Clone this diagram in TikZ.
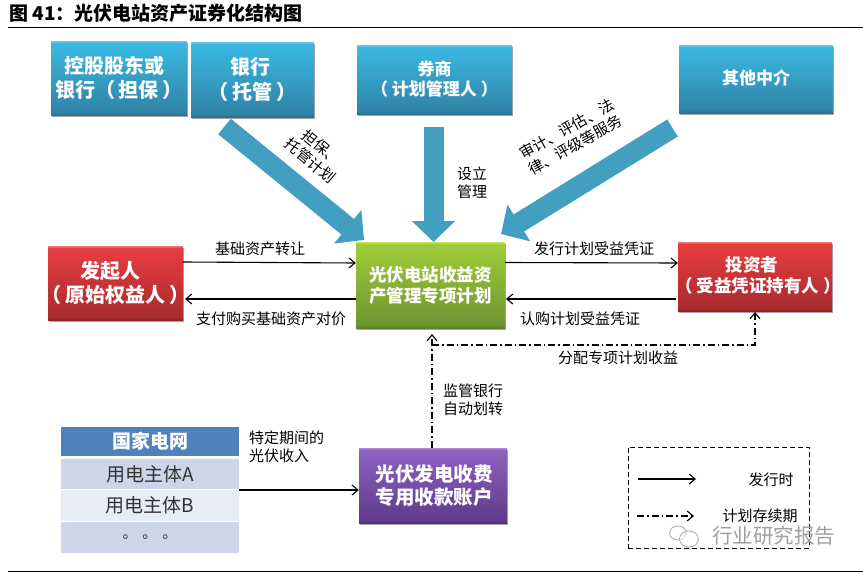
\documentclass[tikz,border=0pt]{standalone}
\usepackage{fontspec}
\setmainfont{Noto Sans CJK SC}
\usetikzlibrary{arrows.meta,shadows,calc}
\definecolor{blockblue}{HTML}{429FBF}
\definecolor{hdr}{HTML}{4F81BD}
\definecolor{rowd}{HTML}{CDD5E6}
\definecolor{rowl}{HTML}{E8ECF4}
\newcommand{\glossyshade}[5]{%
  \pgfdeclareverticalshading{#1}{100bp}{%
    color(0bp)=(#5); color(25bp)=(#5); color(27bp)=(#4); color(71bp)=(#3); color(73.5bp)=(#3); color(75bp)=(#2); color(100bp)=(#2)}}
\newcommand{\wideline}[1]{\makebox[0pt]{#1}}
\newcommand{\lp}{（\hspace{4pt}}
\newcommand{\rp}{\hspace{4pt}）}
\newcommand{\upby}[1]{\rule[-#1]{0pt}{#1}}
\definecolor{bR}{HTML}{6CCBE6}\definecolor{bT}{HTML}{39B6E0}\definecolor{bB}{HTML}{3183A6}\definecolor{bE}{HTML}{2B6F8C}
\definecolor{rR}{HTML}{F07A7A}\definecolor{rT}{HTML}{E53C3F}\definecolor{rB}{HTML}{A92B2D}\definecolor{rE}{HTML}{8E2425}
\definecolor{gR}{HTML}{BFE060}\definecolor{gT}{HTML}{9CCB37}\definecolor{gB}{HTML}{6E9432}\definecolor{gE}{HTML}{5E7F2B}
\definecolor{pR}{HTML}{A98AD2}\definecolor{pT}{HTML}{8D5FBE}\definecolor{pB}{HTML}{5E3C8B}\definecolor{pE}{HTML}{4F3275}
\glossyshade{glossblue}{bR}{bT}{bB}{bE}
\glossyshade{glossred}{rR}{rT}{rB}{rE}
\glossyshade{glossgreen}{gR}{gT}{gB}{gE}
\glossyshade{glosspurple}{pR}{pT}{pB}{pE}
\tikzset{
  x=1pt,y=-1pt,
  box/.style={inner sep=0pt,align=center,text=white,font=\fontsize{#1}{1.2\dimexpr #1pt\relax}\selectfont\bfseries,
    drop shadow={shadow xshift=0.6pt,shadow yshift=-1.6pt,opacity=.35,fill=black}},
  bluebox/.style={box=#1,shading=glossblue},
  redbox/.style={box=#1,shading=glossred},
  greenbox/.style={box=#1,shading=glossgreen},
  purplebox/.style={box=#1,shading=glosspurple},
  lbl/.style={inner sep=0pt,align=center,text=black,font=\fontsize{15}{18}\selectfont},
  flow/.style={line width=1.1pt,-{Straight Barb[length=6pt,width=10pt,line width=1.1pt]}},
  cycle flow/.style={line width=1.1pt,dash pattern=on 7pt off 3pt on 1.5pt off 3pt},
  blockarrow/.style={draw=blockblue,line width=20pt,-{Triangle[length=21pt,width=42pt]}},
  row/.style={inner sep=0pt,minimum width=178pt,text=black!80,font=\fontsize{19}{22}\selectfont},
  textdown/.style={execute at begin node={\vspace*{#1}}},
}
\begin{document}
\begin{tikzpicture}
\useasboundingbox (0,0) rectangle (863,573);
% title and rules
\node[inner sep=0pt,anchor=west,font=\fontsize{19}{22}\selectfont\bfseries] (title) at (9,13) {图 41：光伏电站资产证券化结构图};
\coordinate (ruleAa) at (8,27.5); \coordinate (ruleAb) at (863,27.5);
\coordinate (ruleBa) at (8,571); \coordinate (ruleBb) at (863,571);
\draw[line width=0.9pt] (ruleAa) -- (ruleAb);
\draw[line width=0.9pt] (ruleBa) -- (ruleBb);
% top boxes
\node[bluebox=20,minimum width=136pt,minimum height=74pt] (guar) at (119,78) {控股股东或\hspace*{10pt}\\\wideline{银行\lp 担保\rp}};
\node[bluebox=20,minimum width=123pt,minimum height=75pt,textdown=4pt] (bank) at (252.5,79.5) {银行\hspace*{4pt}\\[1.5pt]\lp 托管\rp};
\node[bluebox=17,minimum width=155pt,minimum height=69pt] (broker) at (434.5,79.5) {券商\\\lp 计划管理人\rp\upby{3pt}};
\node[bluebox=17,minimum width=154pt,minimum height=68pt] (other) at (756,79) {其他中介\upby{4pt}};
% middle boxes
\node[redbox=20,minimum width=135pt,minimum height=74pt] (orig) at (115.5,283) {发起人\hspace*{10pt}\\\wideline{\lp 原始权益人\rp}};
\node[greenbox=17.5,minimum width=149pt,minimum height=86pt,textdown=6pt] (plan) at (430.5,285) {光伏电站收益资\\产管理专项计划};
\node[redbox=17.5,minimum width=154pt,minimum height=69pt] (inv) at (755,276.5) {投资者\hspace*{6pt}\\\hspace*{6pt}\wideline{\lp 受益凭证持有人\rp}\upby{4pt}};
\node[purplebox=19.5,minimum width=148pt,minimum height=75pt,textdown=6pt] (acct) at (433,485.5) {\hspace*{2pt}光伏发电收费\\\hspace*{2pt}专用收款账户};
% block arrows
\coordinate (a1s) at (224.5,126.5); \coordinate (a1e) at (364,240);
\coordinate (a2s) at (433.5,127); \coordinate (a2e) at (433.5,242);
\coordinate (a3s) at (672.5,128); \coordinate (a3e) at (501,234);
\draw[blockarrow] (a1s) -- (a1e);
\draw[blockarrow] (a2s) -- (a2e);
\draw[blockarrow] (a3s) -- (a3e);
% labels on block arrows
\node[lbl,rotate=-40] (l1) at (316,154) {担保、\\托管计划};
\node[lbl] (l2) at (472,183) {设立\\管理};
\node[lbl,rotate=29,align=left] (l3) at (571,137) {审计、评估、法\\律、评级等服务};
% horizontal flows
\draw[flow] (orig.east |- 0,262) -- (plan.west |- 0,263);
\draw[flow] (plan.west |- 0,299) -- (185,299);
\draw[flow] (plan.east |- 0,262.5) -- (inv.west |- 0,263);
\draw[flow] (676,299) -- (506,299);
\node[lbl] (t1) at (260,249) {基础资产转让};
\node[lbl] (t2) at (271,319) {支付购买基础资产对价};
\node[lbl] (t3) at (594,249) {发行计划受益凭证};
\node[lbl] (t4) at (580,319) {认购计划受益凭证};
% dash-dot flows
\coordinate (jn) at (432,345);
\coordinate (pl) at (432,334);
\coordinate (iv) at (755,312);
\draw[cycle flow,-{Straight Barb[length=6pt,width=10pt,line width=1.1pt]}] (acct.north -| jn) -- (pl);
\draw[cycle flow,-{Straight Barb[length=6pt,width=10pt,line width=1.1pt]}] (jn) -| (iv);
\node[lbl] (t5) at (618,358) {分配专项计划收益};
\node[lbl] (t6) at (473,400) {监管银行\\自动划转};
% table
\node[row,fill=hdr,minimum height=29pt,text=white,font=\fontsize{19}{22}\selectfont\bfseries] (grid) at (150,441.5) {国家电网};
\node[row,fill=rowd,minimum height=30pt] (ra) at (150,474) {用电主体A};
\node[row,fill=rowl,minimum height=31pt] (rb) at (150,505.5) {用电主体B};
\node[row,fill=rowd,minimum height=31pt] (rc) at (150,537.5) {};
\node[inner sep=0pt,text=black!80,font=\fontsize{15}{18}\selectfont] (dots) at (150,537) {。\,\,。\,\,。};
\coordinate (rowe) at (239,490);
\draw[flow] (rowe) -- (acct.west |- 0,490);
\node[lbl,align=left,anchor=west] (t7) at (249,447) {特定期间的\\光伏收入};
% legend
\node[draw,line width=1pt,dash pattern=on 5pt off 3pt,inner sep=0pt,minimum width=181pt,minimum height=101pt] (legend) at (718.5,497.5) {};
\coordinate (k1a) at (638,479); \coordinate (k1b) at (696,479);
\coordinate (k2a) at (637,516); \coordinate (k2b) at (694,516);
\draw[flow] (k1a) -- (k1b);
\draw[cycle flow,-{Straight Barb[length=6pt,width=10pt,line width=1.1pt]}] (k2a) -- (k2b);
\node[lbl] (k1t) at (771,480) {发行时};
\node[lbl] (k2t) at (760,516) {计划存续期};
% watermark
\draw[gray!70,line width=0.8pt,fill=white,fill opacity=.6] (678,533) ellipse (8.5pt and 7pt);
\draw[gray!70,line width=0.8pt,fill=white,fill opacity=.6] (689,539) ellipse (9.5pt and 8pt);
\node[inner sep=0pt,text=gray!75,font=\fontsize{20.5}{24}\selectfont] (wm) at (773.5,536) {行业研究报告};
\end{tikzpicture}
\end{document}
